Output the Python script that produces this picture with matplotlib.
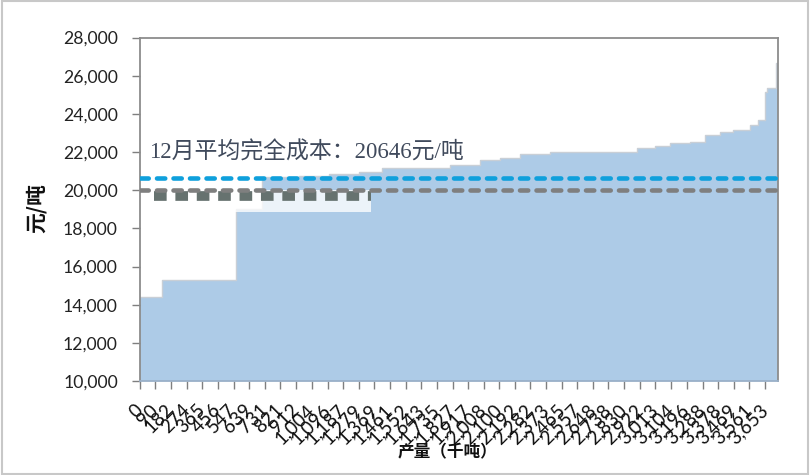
import matplotlib
matplotlib.use("Agg")
import matplotlib.pyplot as plt
from matplotlib.patches import Rectangle
import numpy as np

# ---- data ----
prod_start = [0, 131, 560, 714, 931, 1107, 1282, 1417, 1809, 1985, 2102, 2219, 2395,
              2904, 3009, 3097, 3214, 3302, 3390, 3466, 3566, 3613, 3653, 3665, 3718]
prod_end = 3729
cost = [14400, 15300, 19000, 20700, 20750, 20850, 20950, 21150, 21300, 21600, 21700,
        21900, 22000, 22200, 22300, 22450, 22500, 22900, 23050, 23150, 23420, 23700,
        25150, 25350, 26650]
avg_cost = 20646
ref_cost = 20000
tick_labels = ["0", "90", "182", "274", "365", "456", "547", "639", "731", "821", "912",
               "1,004", "1,096", "1,187", "1,279", "1,369", "1,461", "1,552", "1,643",
               "1,735", "1,827", "1,917", "2,008", "2,100", "2,192", "2,282", "2,373",
               "2,465", "2,557", "2,648", "2,738", "2,830", "2,922", "3,013", "3,104",
               "3,196", "3,288", "3,378", "3,469", "3,561", "3,653"]
y_ticks = [10000, 12000, 14000, 16000, 18000, 20000, 22000, 24000, 26000, 28000]
annot = "12月平均完全成本：20646元/吨"

tick_pos = [float(s.replace(",", "")) for s in tick_labels]

fig = plt.figure(figsize=(8.10, 4.75), dpi=100)
ax = fig.add_axes([140/810, 1-381/475, (778-140)/810, (381-37.5)/475])

xs = prod_start + [prod_end]
ys = cost + [cost[-1]]
ax.fill_between(xs, ys, 0, step="post", color="#ADCBE7", lw=0, zorder=1)
ax.step(xs, ys, where="post", color="#C9CFD6", lw=1.0, zorder=2)

# faded legacy overlay (white patch + blocky grey dashes)
ax.add_patch(Rectangle((82, 18860), 1270, 1150, facecolor="white", alpha=0.78,
                       lw=0, zorder=3))
ax.plot([82, 1352], [19680, 19680], color="#66726F", lw=7,
        dashes=(1.3, 0.9), zorder=4, solid_capstyle="butt", dash_capstyle="butt")

ax.axhline(avg_cost, color="#0FA0DC", lw=3.3, dashes=(1.8, 1.8), zorder=5,
           dash_capstyle="round")
ax.axhline(ref_cost, color="#7F7F7F", lw=3.3, dashes=(1.8, 1.8), zorder=5,
           dash_capstyle="round")

ax.text(50, 21950, annot, fontsize=16.5, color="#404A5C", va="center", ha="left",
        family=["Liberation Serif", "Noto Sans CJK SC"], zorder=6)

ax.set_xlim(0, prod_end)
ax.set_ylim(10000, 28000)
ax.set_yticks(y_ticks)
ax.set_yticklabels([f"{v:,}" for v in y_ticks], fontsize=12.7, family="Lato",
                   color="#222222")
ax.set_xticks(tick_pos)
ax.set_xticklabels(tick_labels, fontsize=13.5, family="Lato", color="#111111",
                   rotation=45, ha="right", rotation_mode="anchor", va="center")
ax.tick_params(axis="y", length=6, width=1, color="#7F7F7F", pad=10)
ax.tick_params(axis="x", length=6, width=1, color="#7F7F7F", pad=13)
for s in ["left", "top", "right"]:
    ax.spines[s].set_color("#8C8C8C")
    ax.spines[s].set_linewidth(1.3)
ax.spines["bottom"].set_color("#9AB0C8")
ax.spines["bottom"].set_linewidth(1.3)

fig.text(36/810, 1-208/475, "元/吨", rotation=90, fontsize=15, fontweight="bold",
         family=["Noto Sans CJK SC", "DejaVu Sans"], ha="center", va="center",
         color="#111111")
fig.text(447/810, 1-452/475, "产量（千吨）", fontsize=12, fontweight="bold",
         family=["Noto Sans CJK SC", "DejaVu Sans"], ha="center", va="center",
         color="#111111")

fig.patches.append(Rectangle((0.002, 0.003), 0.996, 0.994, transform=fig.transFigure,
                             fill=False, edgecolor="#C8C8C8", lw=1.5))

fig.savefig("out.png", dpi=100)
